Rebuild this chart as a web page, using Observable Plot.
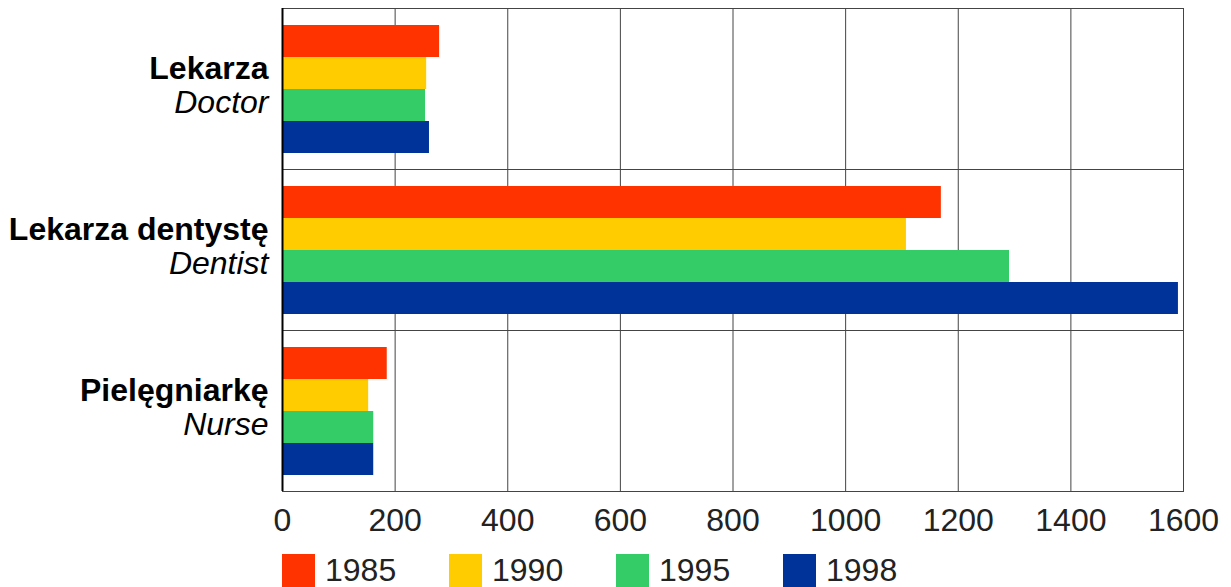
<!DOCTYPE html>
<html>
<head>
<meta charset="utf-8">
<script src="https://cdn.jsdelivr.net/npm/d3@7"></script>
<script src="https://cdn.jsdelivr.net/npm/@observablehq/plot@0.6"></script>
<style>
  html, body { margin: 0; padding: 0; background: #fff; }
  #chart svg { display: block; }
  .lg-swatches { margin: 12px 0 0 282px !important; font-family: "Liberation Sans", Arial, sans-serif !important; font-size: 32px !important; color: #222 !important; }
  .lg-swatch { width: 167px; margin-right: 0 !important; }
  .lg-swatch > svg { margin-right: 10px !important; }
</style>
</head>
<body>
<div id="chart"></div>
<script>
const categories = ["Lekarza", "Lekarza dentystę", "Pielęgniarkę"];
const categoriesEN = ["Doctor", "Dentist", "Nurse"];
const years = ["1985", "1990", "1995", "1998"];
const values1985 = [279, 1170, 186];
const values1990 = [256, 1108, 153];
const values1995 = [254, 1291, 162];
const values1998 = [261, 1591, 162];
const colors = ["#FF3300", "#FFCC00", "#33CC66", "#003399"];
const xTicks = [0, 200, 400, 600, 800, 1000, 1200, 1400, 1600];

const series = [values1985, values1990, values1995, values1998];
const rows = [];
categories.forEach((c, i) => {
  years.forEach((y, j) => rows.push({cat: c, year: y, value: series[j][i]}));
});
const enOf = new Map(categories.map((c, i) => [c, categoriesEN[i]]));

const font = '"Liberation Sans", Arial, sans-serif';

const plot = Plot.plot({
  width: 1231,
  height: 540,
  marginLeft: 282,
  marginRight: 48,
  marginTop: 7,
  marginBottom: 48,
  style: {fontFamily: font, background: "#fff"},
  x: {domain: [0, 1600]},
  y: {domain: years, paddingInner: 0, paddingOuter: 0.48, axis: null},
  fy: {domain: categories, padding: 0, axis: null},
  color: {domain: years, range: colors},
  marks: [
    Plot.gridX(xTicks, {stroke: "#444", strokeOpacity: 1}),
    Plot.barX(rows, {x: "value", y: "year", fy: "cat", fill: "year"}),
    Plot.frame({stroke: "#444", strokeOpacity: 1}),
    Plot.ruleX([0], {stroke: "#000", strokeWidth: 2}),
    Plot.axisX({ticks: xTicks, tickFormat: d => String(d), tickSize: 0, tickPadding: 17, fontSize: 32, fill: "#222", label: null}),
    Plot.text(categories, {fy: d => d, text: d => d, frameAnchor: "left", textAnchor: "end", dx: -14, dy: -20, fontWeight: "bold", fontSize: 32, fill: "#000"}),
    Plot.text(categories, {fy: d => d, text: d => enOf.get(d), frameAnchor: "left", textAnchor: "end", dx: -14, dy: 14, fontStyle: "italic", fontSize: 32, fill: "#000"})
  ]
});
document.getElementById("chart").appendChild(plot);
const legend = plot.legend("color", {swatchWidth: 33, swatchHeight: 33, className: "lg"});
document.getElementById("chart").appendChild(legend);
</script>
</body>
</html>
